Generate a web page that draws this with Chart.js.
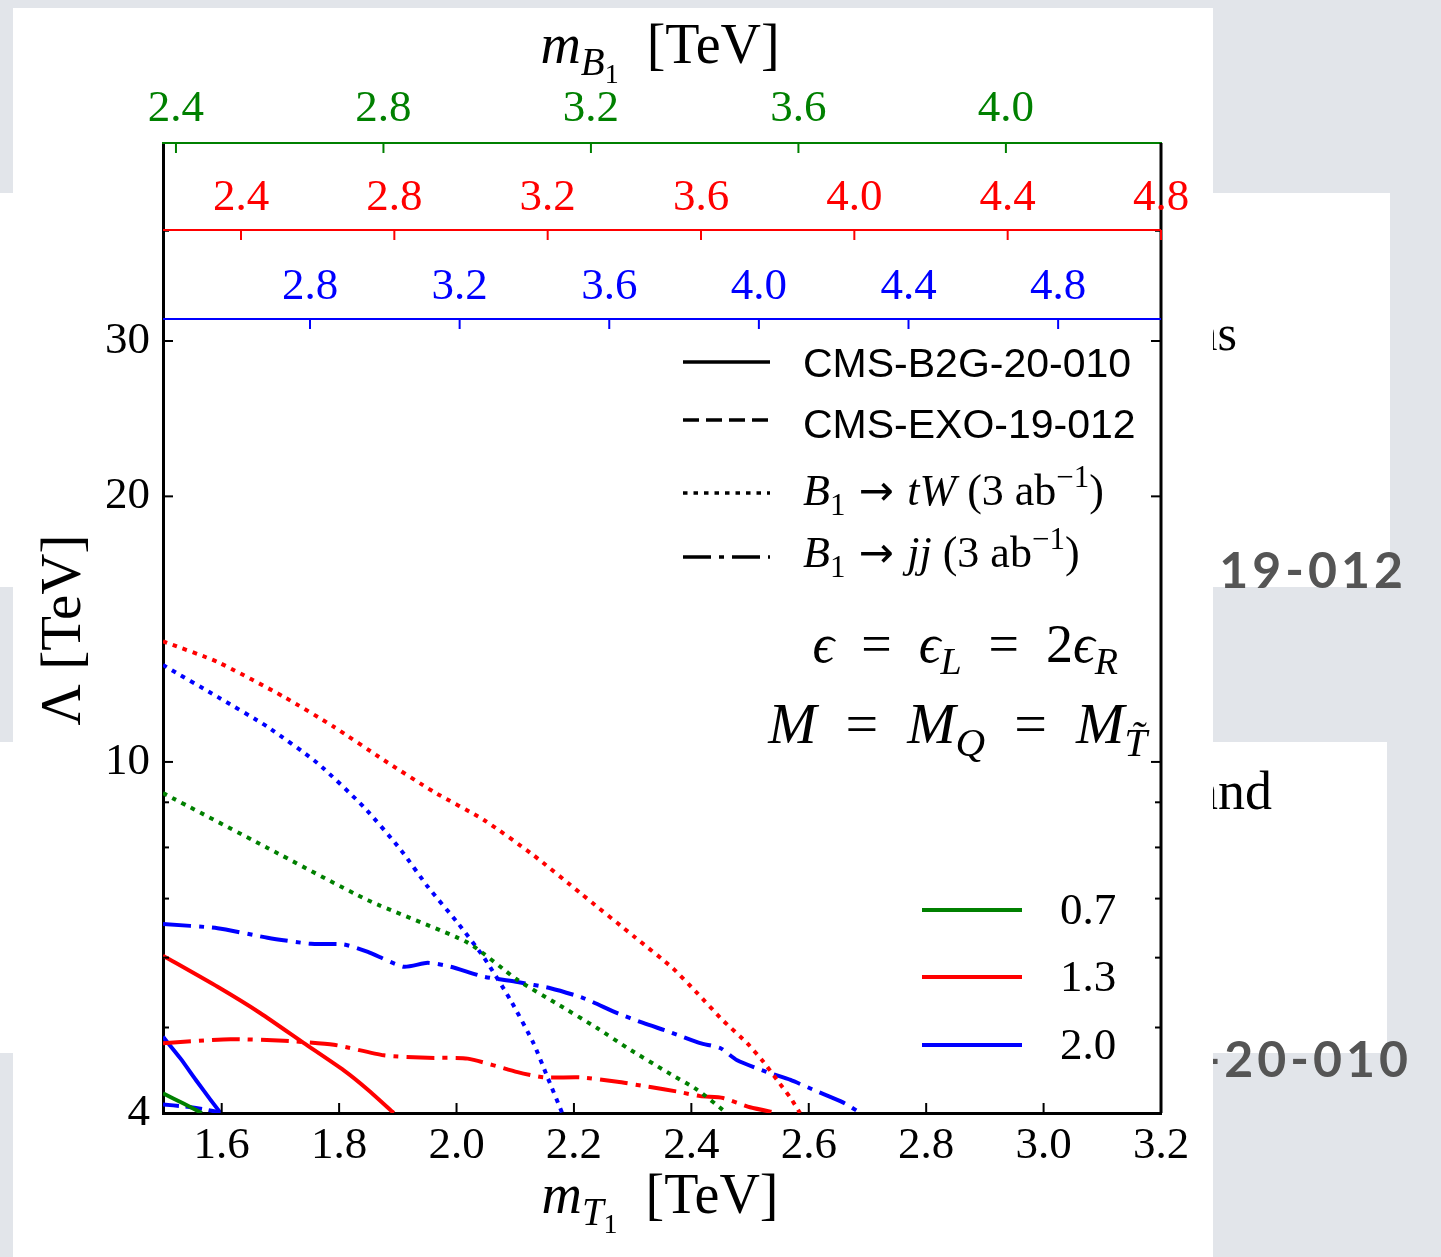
<!DOCTYPE html>
<html lang="en">
<head>
<meta charset="UTF-8">
<title>Lambda vs m_T1 exclusion curves</title>
<style>
  html, body { margin: 0; padding: 0; }
  body { width: 1441px; height: 1257px; position: relative; overflow: hidden; background: #e2e5ea; }
  .band { position: absolute; left: 0; background: #fff; }
  .slide { position: absolute; white-space: nowrap; }
  .serif { font-family: "Liberation Serif", serif; color: #000; }
  .bold { font-family: Lato, "Open Sans", sans-serif; font-weight: 700; color: #555; letter-spacing: 4px; }
  #wrap { position: absolute; left: 13px; top: 8px; width: 1200px; height: 1249px; background: #fff; }
</style>
</head>
<body>
  <!-- slide behind the figure -->
  <div class="band" style="top:193px;height:394px;width:1390px"></div>
  <div class="band" style="top:742px;height:311px;width:1387px"></div>
  <div class="slide serif" style="right:204px;top:308px;font-size:50px;line-height:50px">Exclusions</div>
  <div class="slide bold" style="right:34px;top:544px;font-size:50px;line-height:50px">CMS-EXO-19-012</div>
  <div class="slide serif" style="right:169px;top:764px;font-size:54px;line-height:54px">and</div>
  <div class="slide bold" style="right:29px;top:1033px;font-size:50px;line-height:50px">CMS-B2G-20-010</div>

  <div id="wrap"><canvas id="chart" width="1200" height="1249"></canvas></div>

<script src="https://cdn.jsdelivr.net/npm/chart.js"></script>
<script>
// ---- values (x = m_T1 in TeV, y = Lambda in TeV) ----
// eps = 0.7 (green)
const gB2gX = [1.50, 1.535, 1.566];
const gB2gY = [4.21, 4.10, 4.00];
const gTwX = [1.50, 1.678, 1.849, 2.019, 2.104, 2.169, 2.240, 2.291, 2.359, 2.410, 2.460];
const gTwY = [9.22, 7.99, 6.97, 6.24, 5.66, 5.33, 4.99, 4.74, 4.45, 4.25, 4.00];
// eps = 1.3 (red)
const rB2gX = [1.50, 1.593, 1.666, 1.740, 1.808, 1.849, 1.893];
const rB2gY = [6.03, 5.56, 5.19, 4.80, 4.47, 4.25, 4.00];
const rTwX = [1.50, 1.593, 1.706, 1.791, 1.876, 1.961, 2.046, 2.131, 2.211, 2.305, 2.368, 2.410, 2.453, 2.495, 2.523, 2.546, 2.569, 2.585];
const rTwY = [13.7, 12.98, 11.85, 10.96, 10.05, 9.25, 8.60, 7.84, 7.10, 6.32, 5.84, 5.47, 5.10, 4.80, 4.57, 4.36, 4.16, 4.00];
const rJjX = [1.50, 1.615, 1.706, 1.791, 1.876, 1.951, 2.019, 2.104, 2.148, 2.211, 2.274, 2.330, 2.376, 2.415, 2.454, 2.500, 2.546];
const rJjY = [4.80, 4.85, 4.83, 4.78, 4.65, 4.62, 4.61, 4.45, 4.39, 4.39, 4.34, 4.28, 4.23, 4.18, 4.16, 4.06, 4.00];
// eps = 2.0 (blue)
const bB2gX = [1.50, 1.530, 1.556, 1.581, 1.598];
const bB2gY = [4.88, 4.61, 4.36, 4.14, 4.00];
const bExoX = [1.50, 1.535, 1.570, 1.600];
const bExoY = [4.09, 4.07, 4.04, 4.00];
const bTwX = [1.50, 1.593, 1.678, 1.763, 1.842, 1.905, 1.951, 2.002, 2.046, 2.092, 2.131, 2.155, 2.180];
const bTwY = [12.88, 11.85, 10.96, 9.97, 8.89, 7.95, 7.22, 6.57, 6.01, 5.37, 4.80, 4.39, 4.00];
const bJjX = [1.50, 1.593, 1.678, 1.752, 1.808, 1.849, 1.910, 1.951, 1.990, 2.046, 2.104, 2.160, 2.216, 2.274, 2.318, 2.364, 2.415, 2.449, 2.478, 2.529, 2.569, 2.615, 2.659, 2.688];
const bJjY = [6.55, 6.48, 6.32, 6.22, 6.21, 6.09, 5.86, 5.92, 5.86, 5.71, 5.63, 5.54, 5.40, 5.19, 5.06, 4.94, 4.80, 4.74, 4.59, 4.45, 4.36, 4.23, 4.11, 4.00];

// ticks
const bottomTicks = [1.6, 1.8, 2.0, 2.2, 2.4, 2.6, 2.8, 3.0, 3.2];
const yTicks = [4, 5, 6, 7, 8, 9, 10, 20, 30, 40];
const yLabelled = [4, 10, 20, 30];
const greenTicks = [2.4, 2.8, 3.2, 3.6, 4.0];
const redTicks = [2.4, 2.8, 3.2, 3.6, 4.0, 4.4, 4.8];
const blueTicks = [2.8, 3.2, 3.6, 4.0, 4.4, 4.8];

// legends
const styleLabels = ['CMS-B2G-20-010', 'CMS-EXO-19-012', 'B1 -> tW (3 ab^-1)', 'B1 -> jj (3 ab^-1)'];
const epsLabels = ['0.7', '1.3', '2.0'];

// ---- styles ----
const SERIF = '"Liberation Serif", "DejaVu Serif", serif';
const SANS = '"Liberation Sans", Arial, sans-serif';
const EPS_COLORS = ['#008000', '#ff0000', '#0000ff'];
const DASHES = [[], [16, 7], [4.5, 6], [28, 8, 5, 8]];
const LW = 4;

const series = [
  { eps: 0, kind: 0, x: gB2gX, y: gB2gY },
  { eps: 0, kind: 2, x: gTwX, y: gTwY },
  { eps: 1, kind: 0, x: rB2gX, y: rB2gY },
  { eps: 1, kind: 2, x: rTwX, y: rTwY },
  { eps: 1, kind: 3, x: rJjX, y: rJjY },
  { eps: 2, kind: 0, x: bB2gX, y: bB2gY },
  { eps: 2, kind: 1, x: bExoX, y: bExoY },
  { eps: 2, kind: 2, x: bTwX, y: bTwY },
  { eps: 2, kind: 3, x: bJjX, y: bJjY }
];

const datasets = series.map(s => ({
  data: s.x.map((v, i) => ({ x: v, y: s.y[i] })),
  borderColor: EPS_COLORS[s.eps],
  borderDash: DASHES[s.kind],
  borderWidth: LW,
  pointRadius: 0,
  tension: 0.2,
  fill: false,
  xAxisID: 'x',
  yAxisID: 'y'
}));

// rich (math-ish) text: runs of [text, kind]
const STY = {
  r: { s: 1, dy: 0, it: false },
  i: { s: 1, dy: 0, it: true },
  si: { s: 0.7, dy: 0.22, it: true },
  sr: { s: 0.7, dy: 0.22, it: false },
  ssr: { s: 0.5, dy: 0.36, it: false },
  sup: { s: 0.7, dy: -0.42, it: false },
  ar: { s: 0.95, dy: 0, it: false, fam: '"DejaVu Sans", sans-serif' }
};
function drawRich(ctx, runs, x, y, size, align) {
  const parts = runs.map(([t, k]) => {
    const st = STY[k];
    const font = (st.it ? 'italic ' : '') + Math.round(size * st.s) + 'px ' + (st.fam || SERIF);
    ctx.font = font;
    return { t, font, dy: st.dy * size, w: ctx.measureText(t).width };
  });
  const total = parts.reduce((a, p) => a + p.w, 0);
  let cx = align === 'right' ? x - total : align === 'center' ? x - total / 2 : x;
  ctx.textAlign = 'left';
  ctx.textBaseline = 'alphabetic';
  parts.forEach(p => { ctx.font = p.font; ctx.fillText(p.t, cx, y + p.dy); cx += p.w; });
}

function seg(ctx, x1, y1, x2, y2, color, w, dash) {
  ctx.beginPath();
  ctx.setLineDash(dash || []);
  ctx.strokeStyle = color;
  ctx.lineWidth = w;
  ctx.moveTo(x1, y1);
  ctx.lineTo(x2, y2);
  ctx.stroke();
  ctx.setLineDash([]);
}

const EQ = '\u2002=\u2002';

const extras = {
  id: 'extras',
  afterDraw(chart) {
    const { ctx, chartArea: a, scales } = chart;
    ctx.save();
    // right frame
    seg(ctx, a.right, a.top, a.right, a.bottom, '#000', 3);
    // inward ticks
    bottomTicks.forEach(v => {
      const px = scales.x.getPixelForValue(v);
      seg(ctx, px, a.bottom, px, a.bottom - 10, '#000', 2);
    });
    yTicks.forEach(v => {
      const py = scales.y.getPixelForValue(v);
      const len = yLabelled.includes(v) ? 10 : 6;
      seg(ctx, a.left, py, a.left + len, py, '#000', 2);
      seg(ctx, a.right, py, a.right - len, py, '#000', 2);
    });
    greenTicks.forEach(v => {
      const px = scales.xTop.getPixelForValue(v);
      seg(ctx, px, a.top, px, a.top + 10, EPS_COLORS[0], 2);
    });
    // the two inner top axes (red, blue)
    const inner = [
      { sc: scales.xRed, ticks: redTicks, y: a.top + 87, c: EPS_COLORS[1] },
      { sc: scales.xBlue, ticks: blueTicks, y: a.top + 176, c: EPS_COLORS[2] }
    ];
    inner.forEach(ax => {
      seg(ctx, a.left, ax.y, a.right, ax.y, ax.c, 2);
      ctx.font = '45px ' + SERIF;
      ctx.fillStyle = ax.c;
      ctx.textAlign = 'center';
      ctx.textBaseline = 'alphabetic';
      ax.ticks.forEach(v => {
        const px = ax.sc.getPixelForValue(v);
        seg(ctx, px, ax.y, px, ax.y + 10, ax.c, 2);
        ctx.fillText(v.toFixed(1), px, ax.y - 20);
      });
    });

    ctx.fillStyle = '#000';
    // axis titles
    drawRich(ctx, [['m', 'i'], ['T', 'si'], ['1', 'ssr'], ['  [TeV]', 'r']], 647, 1205, 56, 'center');
    drawRich(ctx, [['m', 'i'], ['B', 'si'], ['1', 'ssr'], ['  [TeV]', 'r']], 647, 55, 56, 'center');
    ctx.save();
    ctx.translate(67, 622);
    ctx.rotate(-Math.PI / 2);
    drawRich(ctx, [['\u039B', 'r'], [' [TeV]', 'r']], 0, 0, 57, 'center');
    ctx.restore();

    // line-style legend
    const lx = a.left + 520, rows = [a.top + 219, a.top + 277, a.top + 350, a.top + 414];
    rows.forEach((ry, k) => {
      seg(ctx, lx, ry, lx + 87, ry, '#000', 3.5, DASHES[k]);
    });
    ctx.fillStyle = '#000';
    ctx.font = '41px ' + SANS;
    ctx.textAlign = 'left';
    ctx.fillText(styleLabels[0], lx + 120, rows[0] + 15);
    ctx.fillText(styleLabels[1], lx + 120, rows[1] + 18);
    drawRich(ctx, [['B', 'i'], ['1', 'sr'], [' \u2192 ', 'ar'], ['tW', 'i'], [' (3 ab', 'r'], ['\u22121', 'sup'], [')', 'r']], lx + 120, rows[2] + 12, 44, 'left');
    drawRich(ctx, [['B', 'i'], ['1', 'sr'], [' \u2192 ', 'ar'], ['jj', 'i'], [' (3 ab', 'r'], ['\u22121', 'sup'], [')', 'r']], lx + 120, rows[3] + 10, 44, 'left');

    // parameter annotations
    drawRich(ctx, [['\u03F5', 'i'], [EQ, 'r'], ['\u03F5', 'i'], ['L', 'si'], [EQ + '2', 'r'], ['\u03F5', 'i'], ['R', 'si']], a.right - 43, 654, 54, 'right');
    drawRich(ctx, [['M', 'i'], [EQ, 'r'], ['M', 'i'], ['Q', 'si'], [EQ, 'r'], ['M', 'i'], ['T\u0303', 'si']], a.right - 14, 735, 58, 'right');

    // epsilon colour legend
    const cx = a.left + 759;
    const crow = [a.top + 767, a.top + 834, a.top + 902];
    crow.forEach((ry, k) => {
      seg(ctx, cx, ry, cx + 100, ry, EPS_COLORS[k], LW);
      ctx.fillStyle = '#000';
      ctx.font = '45px ' + SERIF;
      ctx.textAlign = 'left';
      ctx.textBaseline = 'middle';
      ctx.fillText(epsLabels[k], cx + 138, ry + 2);
    });
    ctx.restore();
  }
};

const tickFont = { family: SERIF, size: 45 };

new Chart(document.getElementById('chart'), {
  type: 'line',
  data: { datasets },
  options: {
    responsive: false,
    animation: false,
    devicePixelRatio: 1,
    layout: { padding: { left: 0, right: 52, top: 0, bottom: 0 } },
    plugins: { legend: { display: false }, tooltip: { enabled: false } },
    scales: {
      x: {
        type: 'linear', position: 'bottom', min: 1.5, max: 3.2,
        afterBuildTicks: s => { s.ticks = bottomTicks.map(v => ({ value: v })); },
        afterFit: s => { s.height = 144; },
        ticks: { callback: v => v.toFixed(1), font: tickFont, color: '#000', padding: 6, maxRotation: 0, autoSkip: false },
        grid: { display: false, drawTicks: false },
        border: { display: true, color: '#000', width: 3 }
      },
      y: {
        type: 'logarithmic', position: 'left', min: 4, max: 50.3,
        afterBuildTicks: s => { s.ticks = yTicks.map(v => ({ value: v })); },
        afterFit: s => { s.width = 150; },
        ticks: { callback: v => (yLabelled.includes(v) ? String(v) : ''), font: tickFont, color: '#000', padding: 13, autoSkip: false },
        grid: { display: false, drawTicks: false },
        border: { display: true, color: '#000', width: 3 }
      },
      xTop: {
        axis: 'x', type: 'linear', position: 'top', min: 2.375, max: 4.299,
        afterBuildTicks: s => { s.ticks = greenTicks.map(v => ({ value: v })); },
        afterFit: s => { s.height = 135; },
        ticks: { callback: v => v.toFixed(1), font: tickFont, color: EPS_COLORS[0], padding: 7, maxRotation: 0, autoSkip: false },
        grid: { display: false, drawTicks: false },
        border: { display: true, color: EPS_COLORS[0], width: 2 }
      },
      xRed: { axis: 'x', type: 'linear', display: false, min: 2.1965, max: 4.8 },
      xBlue: { axis: 'x', type: 'linear', display: false, min: 2.407, max: 5.075 }
    }
  },
  plugins: [extras]
});
</script>
</body>
</html>
